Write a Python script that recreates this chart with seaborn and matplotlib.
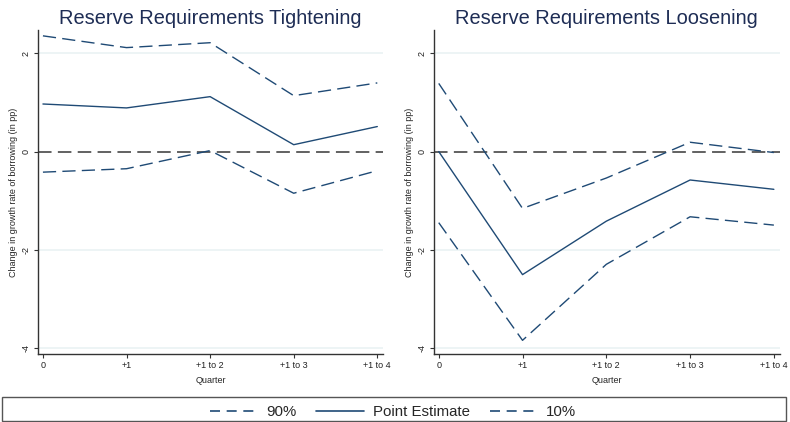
import matplotlib
matplotlib.use("Agg")
import matplotlib.pyplot as plt
from matplotlib.lines import Line2D
from matplotlib.patches import Rectangle
import seaborn as sns
import pandas as pd

quarters = ["0", "+1", "+1 to 2", "+1 to 3", "+1 to 4"]

tight_upper = [2.36, 2.12, 2.22, 1.14, 1.40]
tight_point = [0.97, 0.89, 1.12, 0.14, 0.51]
tight_lower = [-0.42, -0.35, 0.02, -0.85, -0.39]

loose_upper = [1.39, -1.16, -0.54, 0.19, -0.02]
loose_point = [0.00, -2.51, -1.42, -0.58, -0.77]
loose_lower = [-1.45, -3.85, -2.30, -1.33, -1.50]

titles = ["Reserve Requirements Tightening", "Reserve Requirements Loosening"]
yticks = [-4, -2, 0, 2]

sns.set_style("white")
plt.rcParams["font.family"] = ["Liberation Sans", "DejaVu Sans"]

navy = "#1f4a75"
title_col = "#1e2d55"
band_dash = (9.5, 4.5)

fig = plt.figure(figsize=(7.9, 4.22), dpi=100)
ax_l = fig.add_axes([0.048, 0.161, 0.437, 0.768])
ax_r = fig.add_axes([0.549, 0.161, 0.438, 0.768])

panels = [
    (ax_l, tight_upper, tight_point, tight_lower, titles[0]),
    (ax_r, loose_upper, loose_point, loose_lower, titles[1]),
]

for ax, up, pt, lo, title in panels:
    df = pd.DataFrame({"x": range(len(quarters)), "up": up, "pt": pt, "lo": lo})
    for y in [2, -2, -4]:
        ax.axhline(y, color="#eaf2f3", lw=1.2, zorder=0)
    ax.axhline(0, color="#555555", lw=1.3, dashes=(7.5, 3.5), zorder=1)
    sns.lineplot(data=df, x="x", y="up", ax=ax, color=navy, lw=1.0, zorder=3)
    ax.lines[-1].set_dashes(band_dash)
    sns.lineplot(data=df, x="x", y="pt", ax=ax, color=navy, lw=1.0, zorder=3)
    sns.lineplot(data=df, x="x", y="lo", ax=ax, color=navy, lw=1.0, zorder=3)
    ax.lines[-1].set_dashes(band_dash)
    ax.set_xlim(-0.06, 4.07)
    ax.set_ylim(-4.13, 2.48)
    ax.set_xticks(range(len(quarters)))
    ax.set_xticklabels(quarters, fontsize=6.5)
    ax.set_yticks(yticks)
    ax.set_yticklabels([str(v) for v in yticks], fontsize=6.5, rotation=90,
                       va="center")
    ax.set_xlabel("Quarter", fontsize=6.5, labelpad=4)
    ax.set_ylabel("Change in growth rate of borrowing (in pp)", fontsize=6.5,
                  labelpad=3)
    ax.set_title(title, fontsize=14.4, color=title_col, pad=4)
    for side in ["top", "right"]:
        ax.spines[side].set_visible(False)
    for side in ["left", "bottom"]:
        ax.spines[side].set_color("#333333")
        ax.spines[side].set_linewidth(1.0)
    ax.tick_params(axis="both", length=3, width=0.8, color="#333333",
                   direction="out", pad=2, labelcolor="#222222")
    ax.tick_params(left=True, bottom=True)
    ax.grid(False)

# legend with a full-width frame along the bottom edge
fig.patches.append(Rectangle((0.0025, 0.0024), 0.9924, 0.057,
                             transform=fig.transFigure, fill=False,
                             edgecolor="#555555", lw=1.0))
handles = [
    Line2D([0], [0], color=navy, lw=1.2, dashes=(6, 4)),
    Line2D([0], [0], color=navy, lw=1.2),
    Line2D([0], [0], color=navy, lw=1.2, dashes=(6, 4)),
]
fig.legend(handles, ["90%", "Point Estimate", "10%"], loc="center",
           bbox_to_anchor=(0.4975, 0.024), ncol=3, fontsize=10.8,
           frameon=False, handlelength=3.2, handletextpad=0.55,
           columnspacing=1.35, borderpad=0.2)

fig.savefig("out.png", dpi=100)
